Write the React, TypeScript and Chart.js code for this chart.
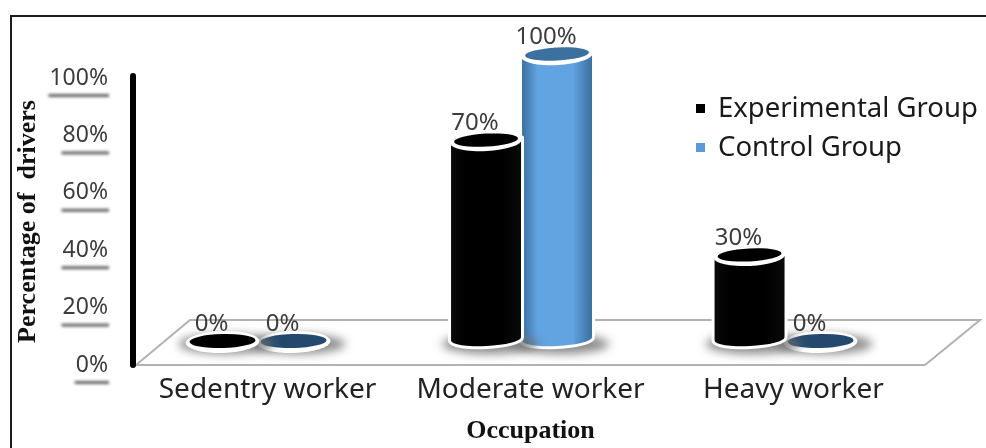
import React, { useEffect, useRef } from "react";
import { Chart, registerables } from "chart.js";

Chart.register(...registerables);

const categories = ["Sedentry worker", "Moderate worker", "Heavy worker"];
const experimentalGroup = [0, 70, 30];
const controlGroup = [0, 100, 0];
const yTicks = [0, 20, 40, 60, 80, 100];
const xTitle = "Occupation";
const yTitle = "Percentage of  drivers";
const seriesNames = ["Experimental Group", "Control Group"];

const SANS = "'Noto Sans', sans-serif";
const SERIF = "'Liberation Serif', serif";
const TILT = (-3 * Math.PI) / 180;

type Look = { side: string; edge: string; top: string; zero: string; marker: string };
const looks: Look[] = [
  { side: "#000000", edge: "#0a0a0a", top: "#000000", zero: "#000000", marker: "#000000" },
  { side: "#62a3e2", edge: "#3b6f9f", top: "#3c709f", zero: "#234a6e", marker: "#5b9bd5" },
];

function cylinder(ctx: CanvasRenderingContext2D, x: number, yTop: number, yBase: number, w: number, look: Look, value: number) {
  const r = w / 2;
  // soft shadow on the floor
  ctx.save();
  ctx.filter = "blur(5px)";
  ctx.fillStyle = "rgba(110,110,110,0.8)";
  ctx.beginPath();
  ctx.ellipse(x + 4, yBase + 3, r + 13, 10, 0, 0, Math.PI * 2);
  ctx.fill();
  ctx.restore();

  if (value <= 0) {
    ctx.fillStyle = "#fff";
    ctx.beginPath();
    ctx.ellipse(x, yBase + 1, r + 2, 11, TILT / 2, 0, Math.PI * 2);
    ctx.fill();
    ctx.fillStyle = look.zero;
    ctx.beginPath();
    ctx.ellipse(x, yBase, r - 2, 7, TILT / 2, 0, Math.PI * 2);
    ctx.fill();
    return;
  }

  const dy = Math.tan(-TILT) * r;
  const bodyBase = yBase - 2;
  const body = () => {
    ctx.beginPath();
    ctx.moveTo(x - r, yTop + dy);
    ctx.lineTo(x - r, bodyBase + dy);
    ctx.ellipse(x, bodyBase, r, 7, TILT, Math.PI, 0, true);
    ctx.lineTo(x + r, yTop - dy);
    ctx.closePath();
  };
  ctx.strokeStyle = "#fff";
  ctx.lineWidth = 6;
  ctx.lineJoin = "round";
  body();
  ctx.stroke();

  const g = ctx.createLinearGradient(x - r, 0, x + r, 0);
  g.addColorStop(0, look.edge);
  g.addColorStop(0.22, look.side);
  g.addColorStop(0.72, look.side);
  g.addColorStop(1, look.edge);
  ctx.fillStyle = g;
  body();
  ctx.fill();

  ctx.fillStyle = "#fff";
  ctx.beginPath();
  ctx.ellipse(x, yTop + 1, r + 1, 10, TILT, 0, Math.PI * 2);
  ctx.fill();
  ctx.fillStyle = look.top;
  ctx.beginPath();
  ctx.ellipse(x, yTop, r - 3, 6.5, TILT, 0, Math.PI * 2);
  ctx.fill();
}

const decor = {
  id: "decor",
  beforeDraw(chart: any) {
    const { ctx, chartArea: a, scales } = chart;
    ctx.save();
    // frame
    ctx.strokeStyle = "#1c1c1c";
    ctx.lineWidth = 2;
    ctx.beginPath();
    ctx.moveTo(11, 448);
    ctx.lineTo(11, 16);
    ctx.lineTo(986, 16);
    ctx.stroke();
    // shadow under each tick label
    ctx.font = `23px ${SANS}`;
    const yS = scales.y;
    yTicks.forEach((t) => {
      const y = yS.getPixelForValue(t);
      const w = ctx.measureText(`${t}%`).width;
      const right = a.left - 28;
      ctx.save();
      ctx.filter = "blur(1.5px)";
      ctx.fillStyle = "rgba(70,70,70,0.85)";
      ctx.fillRect(right - w - 1, y + 16, w + 2, 3);
      ctx.restore();
    });
    // floor
    const floorY = yS.getPixelForValue(0);
    ctx.strokeStyle = "#b2b2b2";
    ctx.lineWidth = 2;
    ctx.beginPath();
    ctx.moveTo(a.left, floorY);
    ctx.lineTo(a.left + 54, floorY - 45);
    ctx.lineTo(a.right + 55, floorY - 45);
    ctx.lineTo(a.right, floorY);
    ctx.closePath();
    ctx.stroke();
    // axis line
    ctx.strokeStyle = "#000";
    ctx.lineWidth = 6;
    ctx.lineCap = "round";
    ctx.beginPath();
    ctx.moveTo(a.left - 3, yS.getPixelForValue(100) - 2);
    ctx.lineTo(a.left - 3, floorY);
    ctx.stroke();
    ctx.restore();
  },
  beforeDatasetDraw(chart: any, args: any) {
    const { ctx } = chart;
    const meta = chart.getDatasetMeta(args.index);
    const look = looks[args.index];
    ctx.save();
    meta.data.forEach((el: any, i: number) => {
      const v = chart.data.datasets[args.index].data[i].y;
      cylinder(ctx, el.x, el.y, el.base, el.width - 1, look, v);
    });
    ctx.restore();
    return false;
  },
  afterDraw(chart: any) {
    const { ctx, data } = chart;
    ctx.save();
    // value labels
    ctx.font = `24px ${SANS}`;
    ctx.fillStyle = "#3c3c3c";
    ctx.textAlign = "center";
    ctx.textBaseline = "middle";
    data.datasets.forEach((ds: any, d: number) => {
      chart.getDatasetMeta(d).data.forEach((el: any, i: number) => {
        ctx.fillText(`${ds.data[i].y}%`, el.x - 11, el.y - 17);
      });
    });
    // legend
    ctx.font = `27.5px ${SANS}`;
    ctx.textAlign = "left";
    data.datasets.forEach((ds: any, d: number) => {
      const y = 109 + d * 39;
      ctx.fillStyle = looks[d].marker;
      ctx.fillRect(696, y - 5, 9, 9);
      ctx.fillStyle = "#1a1a1a";
      ctx.fillText(ds.label, 718, y);
    });
    ctx.restore();
  },
};

export default function App() {
  const ref = useRef<HTMLCanvasElement>(null);
  useEffect(() => {
    const chart = new Chart(ref.current as HTMLCanvasElement, {
      type: "bar",
      data: {
        datasets: [
          { label: seriesNames[0], data: experimentalGroup.map((y, x) => ({ x, y })), backgroundColor: looks[0].marker, xAxisID: "xBars", yAxisID: "yBars", barThickness: 71, clip: false },
          { label: seriesNames[1], data: controlGroup.map((y, x) => ({ x, y })), backgroundColor: looks[1].marker, xAxisID: "xBars", yAxisID: "yBars", barThickness: 71, clip: false },
        ] as any,
      },
      options: {
        responsive: false,
        animation: false,
        layout: { padding: { top: 78, right: 61, bottom: 0, left: 0 } },
        plugins: { legend: { display: false }, tooltip: { enabled: false } },
        scales: {
          x: {
            type: "category",
            labels: categories,
            position: "bottom",
            grid: { display: false },
            border: { display: false },
            afterFit: (s: any) => { s.height = 83; },
            ticks: { color: "#222", font: { family: SANS, size: 28 }, padding: 0, maxRotation: 0, autoSkip: false },
            title: { display: true, text: xTitle, color: "#111", font: { family: SERIF, size: 26, weight: "bold" }, padding: { top: 0, bottom: 1 } },
          },
          y: {
            type: "linear",
            position: "left",
            min: 0,
            max: 100,
            afterBuildTicks: (s: any) => { s.ticks = yTicks.map((value) => ({ value })); },
            afterFit: (s: any) => { s.width = 136; },
            grid: { display: false },
            border: { display: false },
            ticks: { color: "#3c3c3c", font: { family: SANS, size: 23 }, padding: 20, callback: (v: any) => `${v}%` },
            title: { display: true, text: yTitle, color: "#111", font: { family: SERIF, size: 26, weight: "bold" }, padding: { top: 13, bottom: 0 } },
          },
          xBars: { type: "linear", display: false, offset: false, min: -0.463, max: 2.531 },
          yBars: { type: "linear", display: false, min: -8.36, max: 91.64 },
        },
      } as any,
      plugins: [decor],
    });
    return () => chart.destroy();
  }, []);
  return (
    <div style={{ position: "fixed", left: 0, top: 0, width: 986, height: 448, background: "#fff", overflow: "hidden" }}>
      <canvas ref={ref} width={986} height={448} style={{ display: "block", filter: "blur(0.6px)" }} />
    </div>
  );
}
